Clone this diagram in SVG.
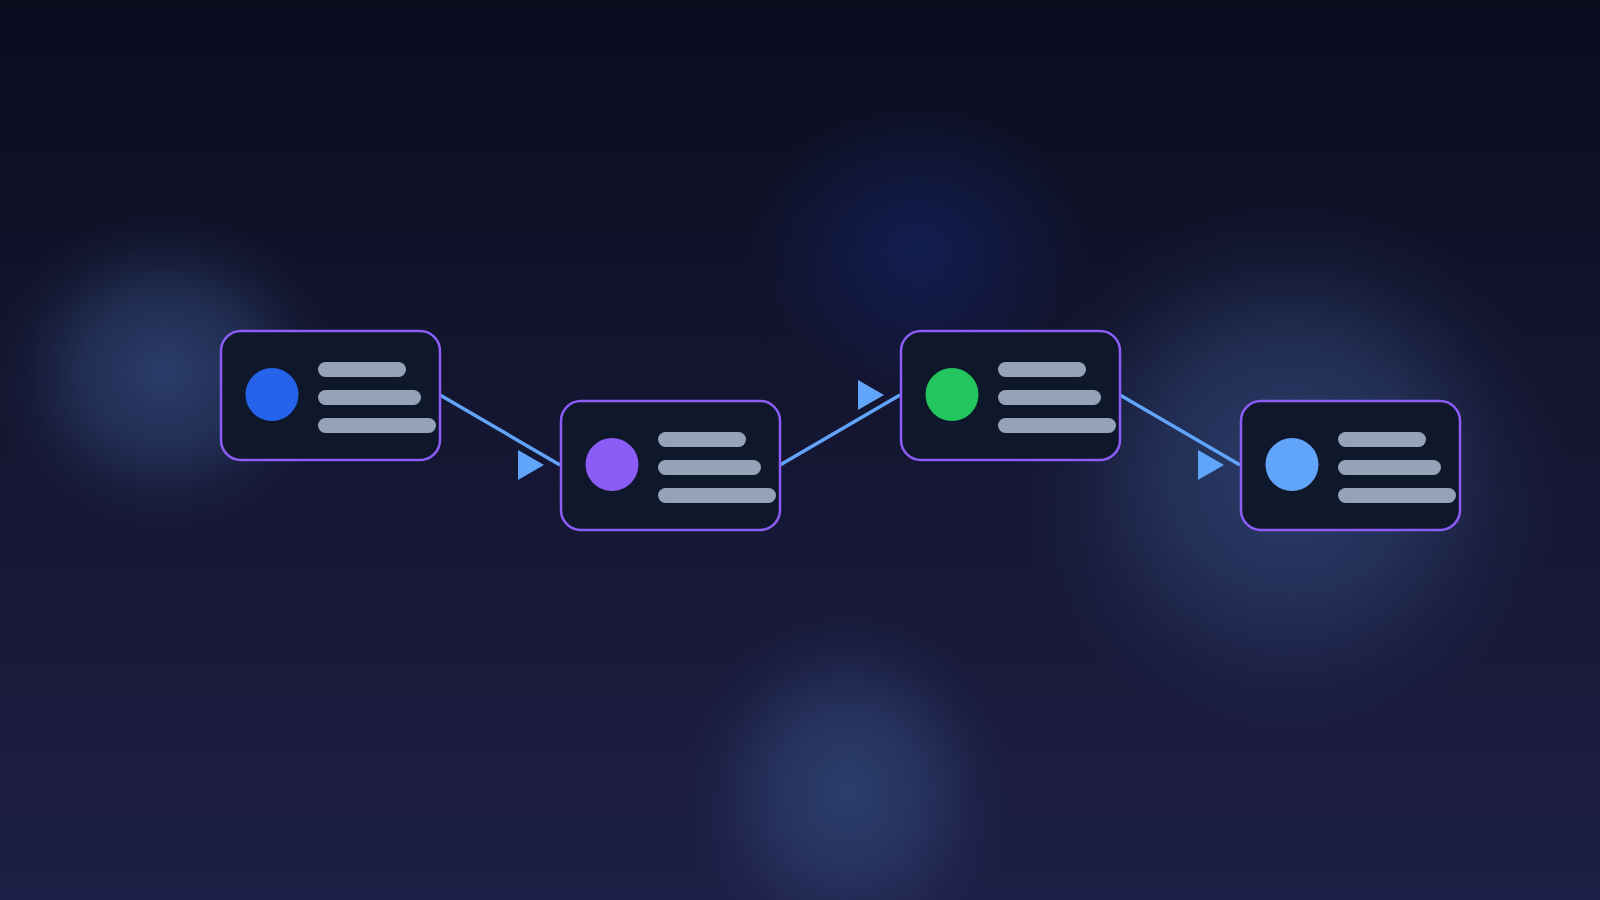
<svg xmlns="http://www.w3.org/2000/svg" width="1600" height="900" viewBox="0 0 1600 900">
  <defs>
    <linearGradient id="bg" x1="0" y1="0" x2="0" y2="1">
      <stop offset="0" stop-color="#0a0d1e"/>
      <stop offset="0.4" stop-color="#13142e"/>
      <stop offset="1" stop-color="#1e1f46"/>
    </linearGradient>
    <radialGradient id="glow">
      <stop offset="0" stop-color="#2e4473" stop-opacity="0.85"/>
      <stop offset="0.45" stop-color="#2e4473" stop-opacity="0.55"/>
      <stop offset="0.8" stop-color="#2e4473" stop-opacity="0.12"/>
      <stop offset="1" stop-color="#2e4473" stop-opacity="0"/>
    </radialGradient>
    <radialGradient id="glowDeep">
      <stop offset="0" stop-color="#13225e" stop-opacity="0.75"/>
      <stop offset="0.4" stop-color="#13225e" stop-opacity="0.45"/>
      <stop offset="1" stop-color="#13225e" stop-opacity="0"/>
    </radialGradient>
    <marker id="arrow" viewBox="0 0 26 30" markerUnits="userSpaceOnUse" markerWidth="26" markerHeight="30" refX="42" refY="15" orient="0">
      <path d="M0,0 L26,15 L0,30 Z" fill="#60a5fa"/>
    </marker>
    <style>
      .card { fill: #0f172a; stroke: #8b5cf6; stroke-width: 2.5; }
      .bar { fill: #94a3b8; }
      .edge { stroke: #60a5fa; stroke-width: 3.5; fill: none; marker-end: url(#arrow); }
    </style>
  </defs>

  <rect width="1600" height="900" fill="url(#bg)"/>
  <g id="glows">
    <ellipse cx="165" cy="372" rx="175" ry="160" fill="url(#glow)"/>
    <ellipse cx="918" cy="250" rx="170" ry="150" fill="url(#glowDeep)"/>
    <ellipse cx="1290" cy="470" rx="275" ry="270" fill="url(#glow)"/>
    <ellipse cx="848" cy="790" rx="165" ry="180" fill="url(#glow)"/>
  </g>

  <g id="connectors">
    <line class="edge" x1="440" y1="395" x2="560" y2="465"/>
    <line class="edge" x1="780" y1="465" x2="900" y2="395"/>
    <line class="edge" x1="1120" y1="395" x2="1240" y2="465"/>
  </g>

  <g id="node1">
    <rect class="card" x="221" y="331" width="219" height="129" rx="20"/>
    <circle cx="272" cy="394.5" r="26.5" fill="#2563eb"/>
    <rect class="bar" x="318" y="362" width="88" height="15" rx="7.5"/>
    <rect class="bar" x="318" y="390" width="103" height="15" rx="7.5"/>
    <rect class="bar" x="318" y="418" width="118" height="15" rx="7.5"/>
  </g>
  <g id="node2">
    <rect class="card" x="561" y="401" width="219" height="129" rx="20"/>
    <circle cx="612" cy="464.5" r="26.5" fill="#8b5cf6"/>
    <rect class="bar" x="658" y="432" width="88" height="15" rx="7.5"/>
    <rect class="bar" x="658" y="460" width="103" height="15" rx="7.5"/>
    <rect class="bar" x="658" y="488" width="118" height="15" rx="7.5"/>
  </g>
  <g id="node3">
    <rect class="card" x="901" y="331" width="219" height="129" rx="20"/>
    <circle cx="952" cy="394.5" r="26.5" fill="#22c55e"/>
    <rect class="bar" x="998" y="362" width="88" height="15" rx="7.5"/>
    <rect class="bar" x="998" y="390" width="103" height="15" rx="7.5"/>
    <rect class="bar" x="998" y="418" width="118" height="15" rx="7.5"/>
  </g>
  <g id="node4">
    <rect class="card" x="1241" y="401" width="219" height="129" rx="20"/>
    <circle cx="1292" cy="464.5" r="26.5" fill="#60a5fa"/>
    <rect class="bar" x="1338" y="432" width="88" height="15" rx="7.5"/>
    <rect class="bar" x="1338" y="460" width="103" height="15" rx="7.5"/>
    <rect class="bar" x="1338" y="488" width="118" height="15" rx="7.5"/>
  </g>
</svg>
